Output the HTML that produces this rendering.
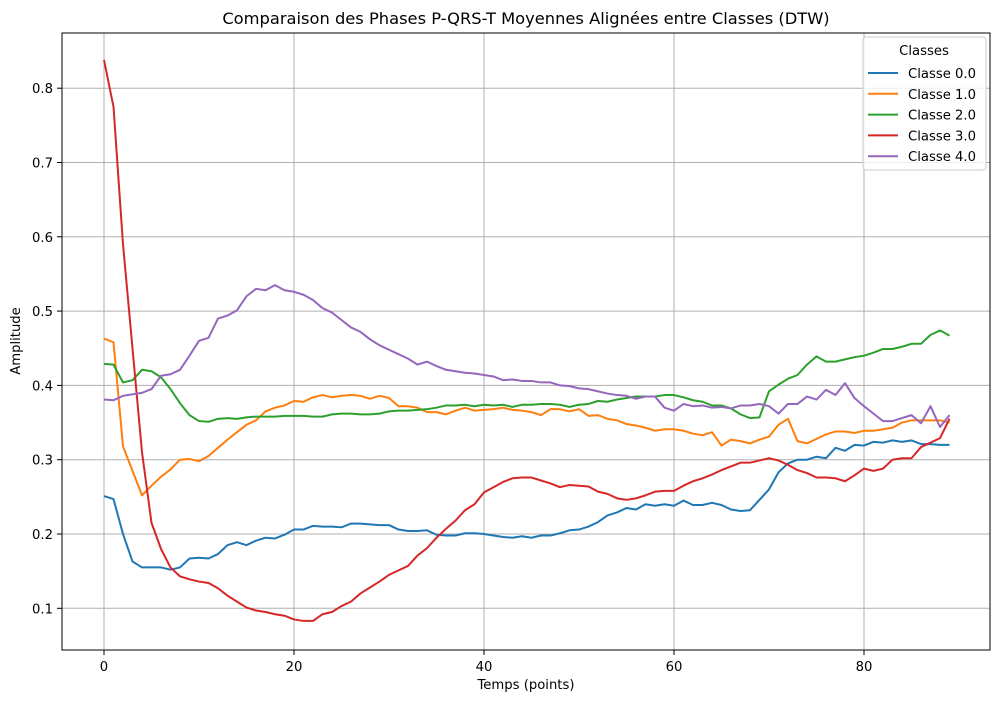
<!DOCTYPE html>
<html><head><meta charset="utf-8"><style>
body{margin:0;background:#fff}
svg{font-family:"DejaVu Sans","Liberation Sans",sans-serif}
</style></head><body>
<svg id="c" width="1001" height="702">
<rect width="1001" height="702" fill="#fff"/>
<text x="526" y="24" font-size="16.3" text-anchor="middle">Comparaison des Phases P-QRS-T Moyennes Alignées entre Classes (DTW)</text>
<g id="grid"></g><g id="series"></g><g id="axes"></g>
<rect x="62" y="33" width="928" height="617" fill="none" stroke="#000" stroke-width="1"/>
<text x="526" y="689" font-size="13.2" text-anchor="middle">Temps (points)</text>
<text x="20" y="341" font-size="13.2" text-anchor="middle" transform="rotate(-90 20 341)">Amplitude</text>
<g id="legend">
<rect x="863" y="37" width="123" height="133" rx="3" fill="#fff" fill-opacity="0.8" stroke="#ccc"/>
<text x="924" y="55" font-size="13.2" text-anchor="middle">Classes</text>
</g>
</svg>
<script>
const names=["Classe 0.0","Classe 1.0","Classe 2.0","Classe 3.0","Classe 4.0"];
const colors=["#1f77b4","#ff7f0e","#2ca02c","#d62728","#9467bd"];
const xTicks=[0,20,40,60,80];
const yTicks=[0.1,0.2,0.3,0.4,0.5,0.6,0.7,0.8];
const s0=[.251,.247,.2,.163,.155,.155,.155,.152,.155,.167,.168,.167,.173,.185,.189,.185,.191,.195,.194,.199,.206,.206,.211,.21,.21,.209,.214,.214,.213,.212,.212,.206,.204,.204,.205,.199,.198,.198,.201,.201,.2,.198,.196,.195,.197,.195,.198,.198,.201,.205,.206,.21,.216,.225,.229,.235,.233,.24,.238,.24,.238,.245,.239,.239,.242,.239,.233,.231,.232,.246,.26,.283,.295,.3,.3,.304,.302,.316,.312,.32,.319,.324,.323,.326,.324,.326,.321,.321,.32,.32];
const s1=[.463,.458,.318,.285,.252,.265,.277,.287,.3,.301,.298,.305,.316,.327,.337,.347,.353,.365,.37,.373,.379,.378,.384,.387,.384,.386,.387,.386,.382,.386,.383,.372,.372,.37,.364,.364,.361,.366,.37,.366,.367,.368,.37,.367,.366,.364,.36,.368,.368,.365,.368,.359,.36,.355,.353,.348,.346,.343,.339,.341,.341,.339,.335,.333,.337,.319,.327,.325,.322,.327,.331,.347,.355,.325,.322,.328,.334,.338,.338,.336,.339,.339,.341,.343,.35,.353,.353,.353,.353,.35];
const s2=[.429,.428,.404,.407,.421,.419,.411,.395,.376,.36,.352,.351,.355,.356,.355,.357,.358,.358,.358,.359,.359,.359,.358,.358,.361,.362,.362,.361,.361,.362,.365,.366,.366,.367,.368,.37,.373,.373,.374,.372,.374,.373,.374,.371,.374,.374,.375,.375,.374,.371,.374,.375,.379,.378,.381,.383,.385,.385,.385,.387,.387,.384,.38,.378,.373,.373,.369,.361,.356,.357,.392,.401,.409,.414,.428,.439,.432,.432,.435,.438,.44,.444,.449,.449,.452,.456,.456,.468,.474,.467];
const s3=[.838,.775,.59,.45,.31,.215,.18,.155,.143,.139,.136,.134,.127,.117,.109,.101,.097,.095,.092,.09,.085,.083,.083,.092,.095,.103,.109,.12,.128,.136,.145,.151,.157,.171,.181,.195,.207,.218,.232,.24,.256,.263,.27,.275,.276,.276,.272,.268,.263,.266,.265,.264,.257,.254,.248,.246,.248,.252,.257,.258,.258,.265,.271,.275,.28,.286,.291,.296,.296,.299,.302,.299,.293,.286,.282,.276,.276,.275,.271,.279,.288,.285,.288,.3,.302,.302,.317,.323,.329,.355];
const s4=[.381,.38,.386,.388,.39,.395,.413,.415,.421,.44,.46,.464,.49,.494,.501,.52,.53,.528,.535,.528,.526,.522,.515,.504,.498,.488,.478,.472,.462,.454,.448,.442,.436,.428,.432,.426,.421,.419,.417,.416,.414,.412,.407,.408,.406,.406,.404,.404,.4,.399,.396,.395,.392,.389,.387,.386,.382,.385,.385,.37,.366,.375,.372,.373,.37,.371,.369,.373,.373,.375,.372,.362,.375,.375,.385,.381,.394,.387,.403,.383,.372,.362,.352,.352,.356,.36,.349,.372,.344,.36];
const series=[s0,s1,s2,s3,s4];
const NS="http://www.w3.org/2000/svg";
const X=v=>104+9.5*v, Y=v=>534-(v-0.2)*743;
function mk(t,a,p){const e=document.createElementNS(NS,t);for(const k in a)e.setAttribute(k,a[k]);p.appendChild(e);return e;}
const grid=document.getElementById('grid'),axes=document.getElementById('axes'),sg=document.getElementById('series'),lg=document.getElementById('legend');
xTicks.forEach(t=>{
 const l=mk('line',{x1:X(t),x2:X(t),y1:33,y2:650,stroke:'#b0b0b0','stroke-width':1},grid);
 
 mk('line',{x1:X(t),x2:X(t),y1:650,y2:655,stroke:'#000'},axes);
 const tx=mk('text',{x:X(t),y:671,'font-size':13.2,'text-anchor':'middle'},axes);tx.textContent=t;
 
});
yTicks.forEach(t=>{
 const l=mk('line',{x1:62,x2:990,y1:Y(t),y2:Y(t),stroke:'#b0b0b0','stroke-width':1},grid);
 
 mk('line',{x1:57,x2:62,y1:Y(t),y2:Y(t),stroke:'#000'},axes);
 const tx=mk('text',{x:53,y:Y(t)+5,'font-size':13.2,'text-anchor':'end'},axes);tx.textContent=t.toFixed(1);
 
});
series.forEach((s,i)=>{
 const p=mk('polyline',{points:s.map((v,j)=>X(j)+','+Y(v)).join(' '),fill:'none',stroke:colors[i],'stroke-width':2,'stroke-linejoin':'round'},sg);
 
 const y=73+i*20.8;
 const g=mk('g',{},lg);
 
 mk('line',{x1:868,x2:898,y1:y,y2:y,stroke:colors[i],'stroke-width':2},g);
 const t=mk('text',{x:908,y:y+5,'font-size':13.2},g);t.textContent=names[i];
});
</script>
</body></html>
